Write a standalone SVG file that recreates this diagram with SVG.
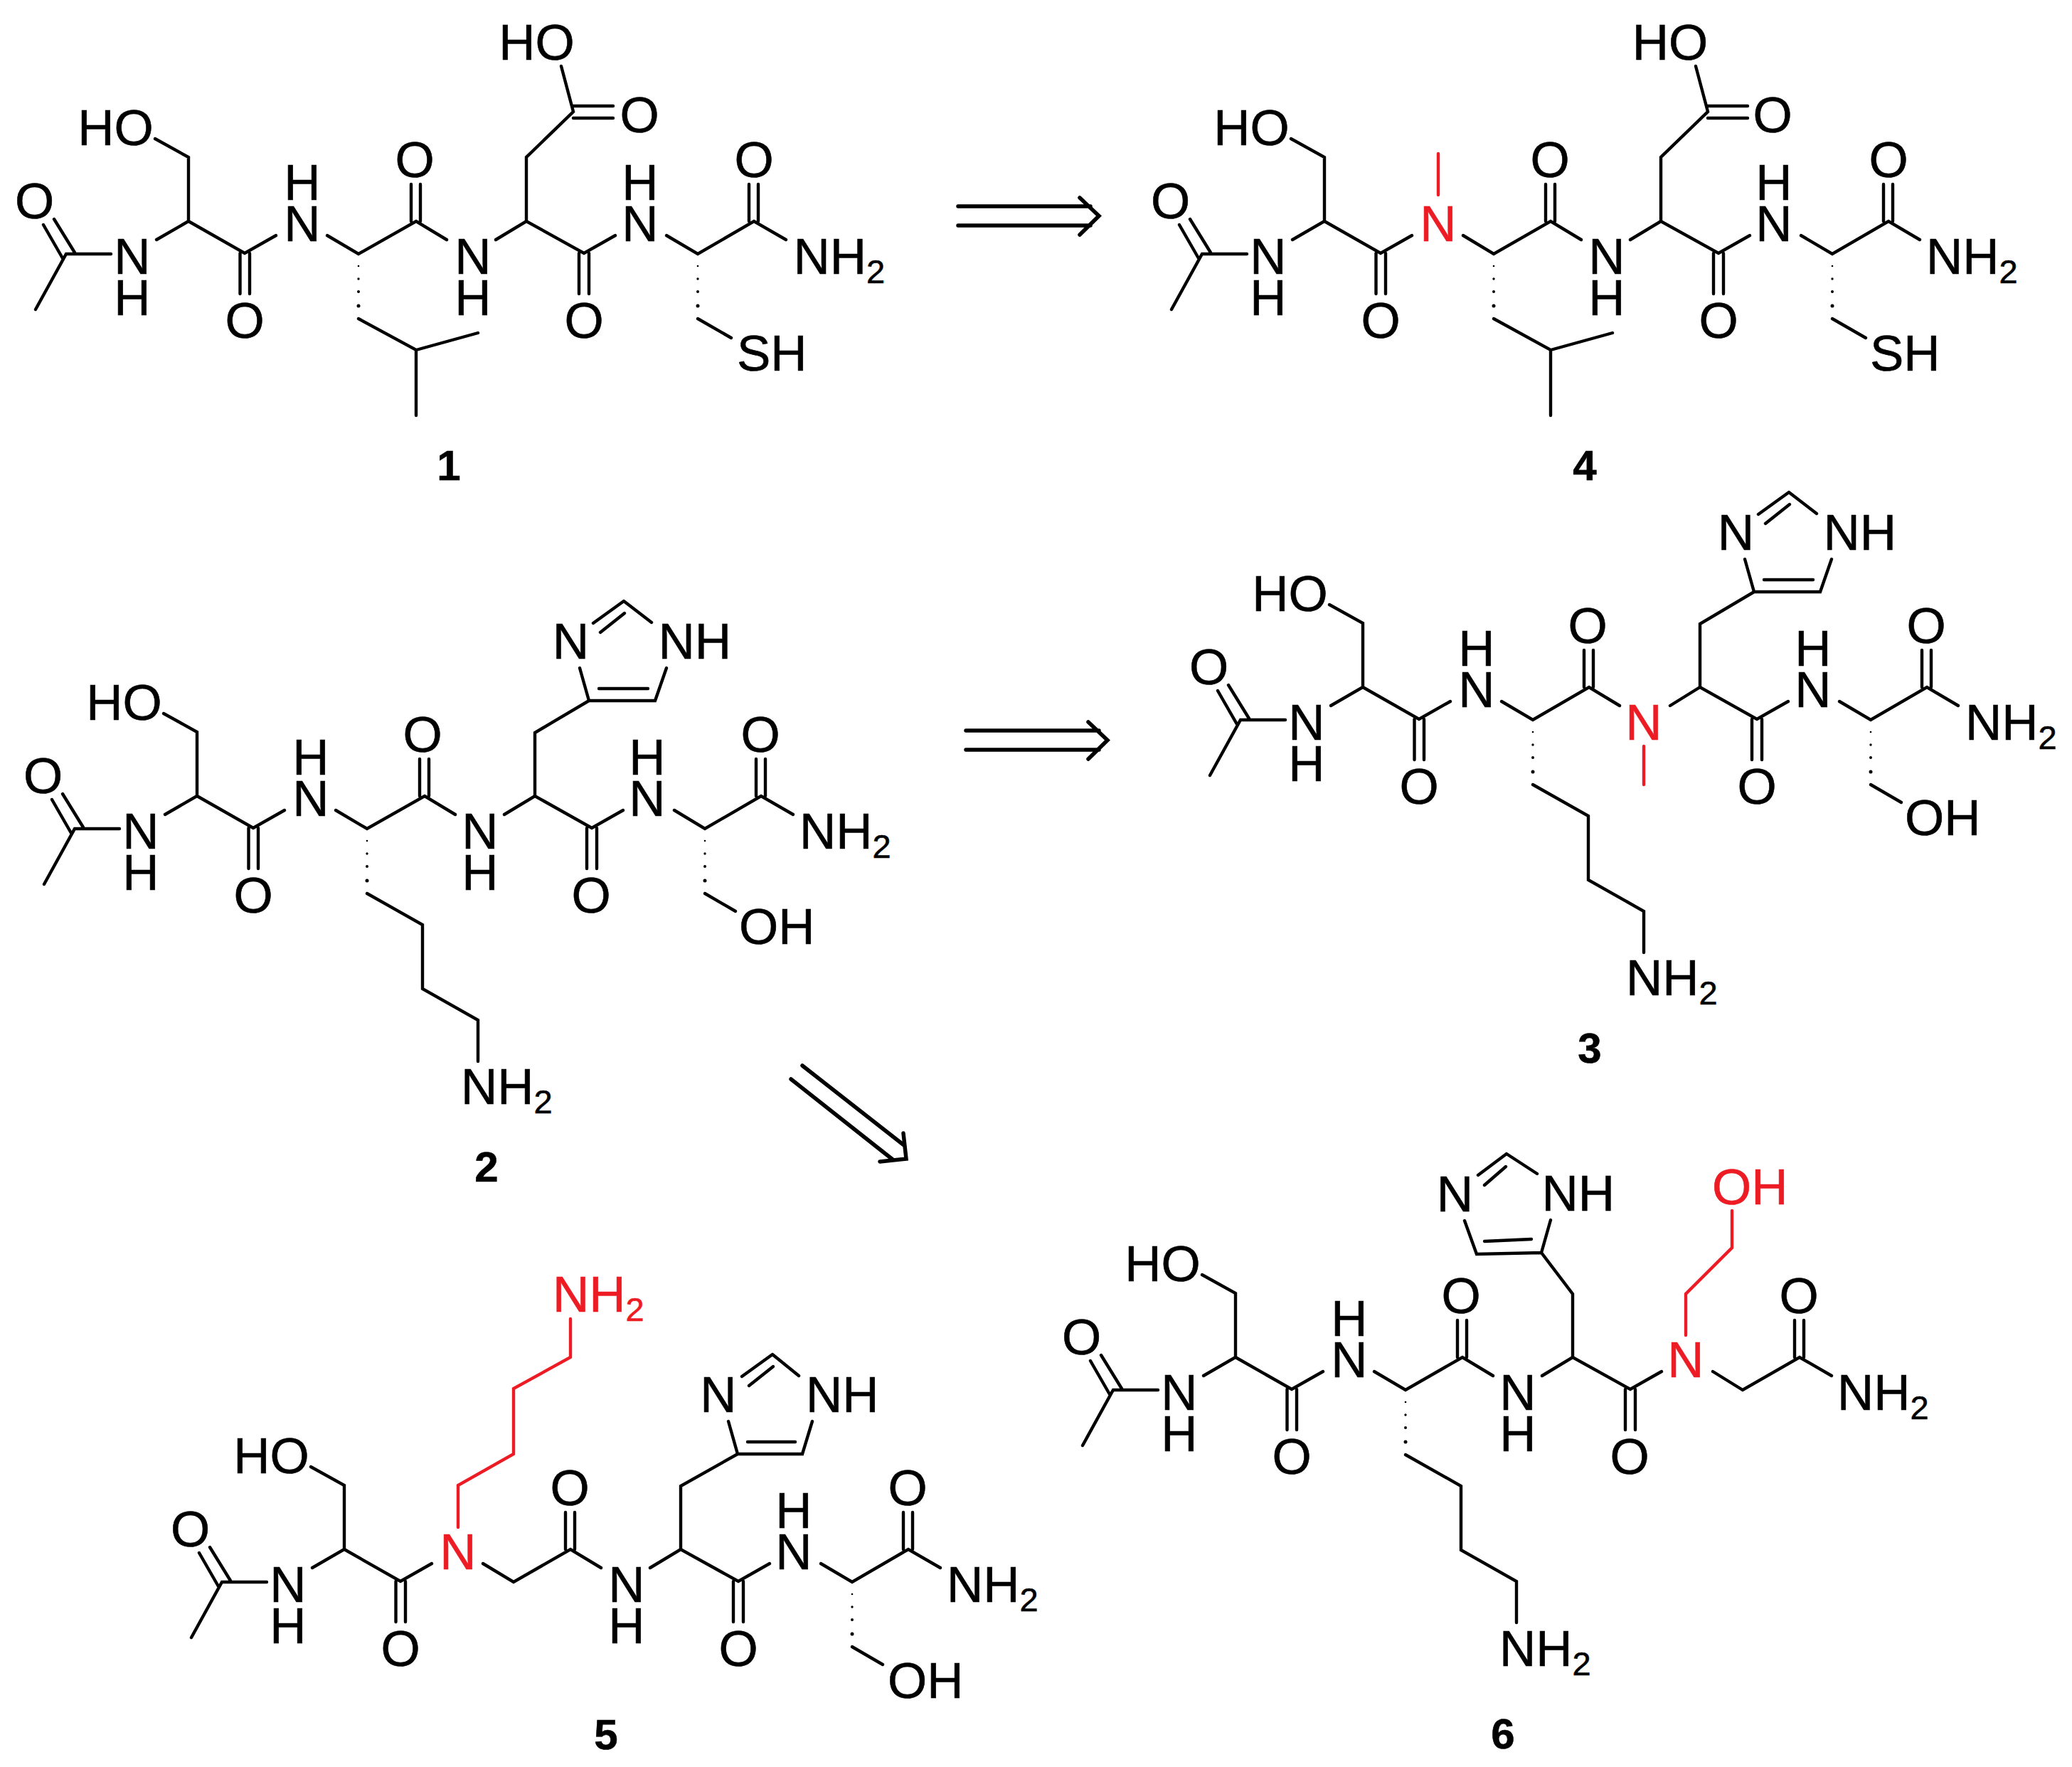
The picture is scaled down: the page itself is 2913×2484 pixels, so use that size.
<svg xmlns="http://www.w3.org/2000/svg" width="2913" height="2484" viewBox="0 0 2913 2484">
<style>
.b{fill:none;stroke:#000;stroke-width:4.400;stroke-linecap:round;stroke-linejoin:miter}
.br{fill:none;stroke:#ed1c24;stroke-width:4.400;stroke-linecap:round;stroke-linejoin:miter}
.a{fill:none;stroke:#000;stroke-width:5.500;stroke-linecap:round;stroke-linejoin:miter}
text{font-family:"Liberation Sans",Arial,sans-serif;font-size:71px;fill:#000;stroke:#000;stroke-width:.6px}
.m{text-anchor:middle}
text.r{fill:#ed1c24;stroke:#ed1c24}
.s{font-size:47px}
text.l{font-size:60px;font-weight:bold;text-anchor:middle}
.d{fill:#000}
</style>
<rect width="2913" height="2484" fill="#fff"/>

<g id="connectors">
<path id="arrow-1" class="a" d="M1347 290H1533M1347 317H1533M1518 278L1545 303.500L1518 330"/>
<path id="arrow-2" class="a" d="M1358 1027H1545M1358 1054H1545M1530 1015L1557 1040.500L1530 1067"/>
<path id="arrow-3" class="a" d="M1128 1498L1271 1610M1112 1517L1255 1630M1270 1593L1274 1629L1237 1633"/>
</g>

<g id="compound-1">
<path class="b" d="M50 435L93 357H156M61 316L88 363M76 308L105 355M220 337L265 311V221L218 195M265 311L344 356L388 331M337.500 356V413M351 356V413M460 331L504 357L585 311L628 337M578 311V259M591 311V259M697 337L740 311L821 356L865 331M814 356V413M828 356V413M937 331L981 357L1060 311L1105 337M1053 311V259M1066 311V259"/>
<path class="b" d="M504 448L585 492L672 468M585 492V584M740 311V221L806 157L789 93M806 149H862M806 166H862M981 448L1028 475"/>
<g class="d"><circle cx="504" cy="374" r="1.300"/><circle cx="504" cy="392" r="1.700"/><circle cx="504" cy="410" r="2"/><circle cx="504" cy="430" r="2.500"/><circle cx="981" cy="374" r="1.300"/><circle cx="981" cy="392" r="1.700"/><circle cx="981" cy="410" r="2"/><circle cx="981" cy="430" r="2.500"/></g>
<text class="m" x="48.500" y="307">O</text><text class="m" x="186" y="385">N</text><text class="m" x="186" y="443">H</text><text class="m" x="162.500" y="204">HO</text><text class="m" x="344" y="475">O</text><text class="m" x="425" y="339">N</text><text class="m" x="425" y="281">H</text><text class="m" x="583" y="249">O</text><text class="m" x="665" y="385">N</text><text class="m" x="665" y="443">H</text><text class="m" x="821" y="475">O</text><text class="m" x="900" y="339">N</text><text class="m" x="900" y="281">H</text><text class="m" x="1060" y="249">O</text>
<text x="1115.500" y="385">NH<tspan class="s" dy="13">2</tspan></text>
<text class="m" x="754.500" y="84">HO</text><text class="m" x="899" y="186">O</text><text x="1036" y="521">SH</text>
<text class="l" x="631" y="675">1</text>
</g>

<g id="compound-4" transform="translate(1597 0)">
<path class="b" d="M50 435L93 357H156M61 316L88 363M76 308L105 355M220 337L265 311V221L218 195M265 311L344 356L388 331M337.500 356V413M351 356V413M460 331L503 357L583 311L626 337M576 311V259M589 311V259M695 337L738 311L819 356L863 331M812 356V413M826 356V413M935 331L979 357L1058 311L1102 337M1051 311V259M1064 311V259"/>
<path class="b" d="M503 448L583 492L670 468M583 492V584M738 311V221L804 157L787 93M804 149H860M804 166H860M979 448L1026 475"/>
<path class="br" d="M425 274V216"/>
<g class="d"><circle cx="503" cy="374" r="1.300"/><circle cx="503" cy="392" r="1.700"/><circle cx="503" cy="410" r="2"/><circle cx="503" cy="430" r="2.500"/><circle cx="979" cy="374" r="1.300"/><circle cx="979" cy="392" r="1.700"/><circle cx="979" cy="410" r="2"/><circle cx="979" cy="430" r="2.500"/></g>
<text class="m" x="48.500" y="307">O</text><text class="m" x="186" y="385">N</text><text class="m" x="186" y="443">H</text><text class="m" x="162.500" y="204">HO</text><text class="m" x="344" y="475">O</text><text class="m r" x="425" y="339">N</text><text class="m" x="582" y="249">O</text><text class="m" x="662" y="385">N</text><text class="m" x="662" y="443">H</text><text class="m" x="819" y="475">O</text><text class="m" x="897" y="339">N</text><text class="m" x="897" y="281">H</text><text class="m" x="1058" y="249">O</text>
<text x="1111" y="385">NH<tspan class="s" dy="13">2</tspan></text>
<text class="m" x="751" y="84">HO</text><text class="m" x="895" y="186">O</text><text x="1032" y="521">SH</text>
<text class="l" x="631" y="675">4</text>
</g>

<g id="compound-2" transform="translate(12 808)">
<path class="b" d="M50 435L93 357H156M61 316L88 363M76 308L105 355M220 337L265 311V221L218 195M265 311L344 356L388 331M337.500 356V413M351 356V413M460 331L504 357L585 311L628 337M578 311V259M591 311V259M697 337L740 311L820 356L864 331M813 356V413M827 356V413M936 331L979 357L1058 311L1103 337M1051 311V259M1064 311V259"/>
<path class="b" d="M504 448L582 492V582L660 626V684M740 311V222L816 177H909L925 131M830 160H899M865 37L904 67M865 37L822 68M866 54L832 81M803 131L816 177M979 448L1022 473"/>
<g class="d"><circle cx="504" cy="374" r="1.300"/><circle cx="504" cy="392" r="1.700"/><circle cx="504" cy="410" r="2"/><circle cx="504" cy="430" r="2.500"/><circle cx="979" cy="374" r="1.300"/><circle cx="979" cy="392" r="1.700"/><circle cx="979" cy="410" r="2"/><circle cx="979" cy="430" r="2.500"/></g>
<text class="m" x="48.500" y="307">O</text><text class="m" x="186" y="385">N</text><text class="m" x="186" y="443">H</text><text class="m" x="162.500" y="204">HO</text><text class="m" x="344" y="475">O</text><text class="m" x="425" y="339">N</text><text class="m" x="425" y="281">H</text><text class="m" x="582" y="249">O</text><text class="m" x="663" y="385">N</text><text class="m" x="663" y="443">H</text><text class="m" x="819" y="475">O</text><text class="m" x="898" y="339">N</text><text class="m" x="898" y="281">H</text><text class="m" x="1057" y="249">O</text>
<text x="1112" y="385">NH<tspan class="s" dy="13">2</tspan></text>
<text class="m" x="790.500" y="118">N</text><text x="913.500" y="118">NH</text><text x="1027" y="519">OH</text><text x="636" y="744">NH<tspan class="s" dy="13">2</tspan></text>
<text class="l" x="672" y="853">2</text>
</g>

<g id="compound-3" transform="translate(1651 655)">
<path class="b" d="M50 435L93 357H156M61 316L88 363M76 308L105 355M220 337L265 311V221L218 195M265 311L344 356L388 331M337.500 356V413M351 356V413M460 331L504 357L583 311L626 337M576 311V259M589 311V259M697 337L739 311L819 356L863 331M812 356V413M826 356V413M935 331L979 357L1058 311L1102 337M1051 311V259M1064 311V259"/>
<path class="b" d="M504 448L582 492V582L660 626V684M739 311V222L815 177H908L924 131M829 160H898M864 37L903 67M864 37L821 68M865 54L831 81M802 131L815 177M979 448L1022 473"/>
<path class="br" d="M660 394V448"/>
<g class="d"><circle cx="504" cy="374" r="1.300"/><circle cx="504" cy="392" r="1.700"/><circle cx="504" cy="410" r="2"/><circle cx="504" cy="430" r="2.500"/><circle cx="979" cy="374" r="1.300"/><circle cx="979" cy="392" r="1.700"/><circle cx="979" cy="410" r="2"/><circle cx="979" cy="430" r="2.500"/></g>
<text class="m" x="48.500" y="307">O</text><text class="m" x="186" y="385">N</text><text class="m" x="186" y="443">H</text><text class="m" x="162.500" y="204">HO</text><text class="m" x="344" y="475">O</text><text class="m" x="425" y="339">N</text><text class="m" x="425" y="281">H</text><text class="m" x="581" y="249">O</text><text class="m r" x="660" y="385">N</text><text class="m" x="819" y="475">O</text><text class="m" x="898" y="339">N</text><text class="m" x="898" y="281">H</text><text class="m" x="1057" y="249">O</text>
<text x="1112" y="385">NH<tspan class="s" dy="13">2</tspan></text>
<text class="m" x="789.500" y="118">N</text><text x="912.500" y="118">NH</text><text x="1027" y="519">OH</text><text x="635" y="744">NH<tspan class="s" dy="13">2</tspan></text>
<text class="l" x="584" y="839">3</text>
</g>

<g id="compound-5" transform="translate(219 1867)">
<path class="b" d="M50 435L93 357H156M61 316L88 363M76 308L105 355M220 337L265 311V221L218 195M265 311L344 356L388 331M337.500 356V413M351 356V413M460 331L503 357L583 311L626 337M576 311V259M589 311V259M695 337L738 311L819 356L863 331M812 356V413M826 356V413M935 331L979 357L1058 311L1103 337M1051 311V259M1064 311V259"/>
<path class="b" d="M738 311V222L818 177H909L923 131M832 160H899M867 37L904 67M867 37L824 68M868 54L834 81M805 131L818 177M979 448L1022 473"/>
<path class="br" d="M425 280V221L503 177V85L583 41V-13"/>
<g class="d"><circle cx="979" cy="374" r="1.300"/><circle cx="979" cy="392" r="1.700"/><circle cx="979" cy="410" r="2"/><circle cx="979" cy="430" r="2.500"/></g>
<text class="m" x="48.500" y="307">O</text><text class="m" x="186" y="385">N</text><text class="m" x="186" y="443">H</text><text class="m" x="162.500" y="204">HO</text><text class="m" x="344" y="475">O</text><text class="m r" x="425" y="339">N</text><text class="m" x="582" y="249">O</text><text class="m" x="662" y="385">N</text><text class="m" x="662" y="443">H</text><text class="m" x="819" y="475">O</text><text class="m" x="897" y="339">N</text><text class="m" x="897" y="281">H</text><text class="m" x="1057" y="249">O</text>
<text x="1112" y="385">NH<tspan class="s" dy="13">2</tspan></text>
<text class="m" x="791" y="118">N</text><text x="914" y="118">NH</text><text x="1029" y="520">OH</text>
<text class="r" x="558" y="-23">NH<tspan class="s" dy="13">2</tspan></text>
<text class="l" x="633" y="592">5</text>
</g>

<g id="compound-6" transform="translate(1472 1597)">
<path class="b" d="M50 435L93 357H156M61 316L88 363M76 308L105 355M220 337L265 311V221L218 195M265 311L344 356L388 331M337.500 356V413M351 356V413M460 331L504 357L584 311L627 337M577 311V259M590 311V259M696 337L739 311L820 356L864 331M813 356V413M827 356V413M936 331L978 357L1058 311L1103 337M1051 311V259M1064 311V259"/>
<path class="b" d="M504 448L582 492V582L660 626V684M739 311V222L695 164L604 166L587 119M681 145L615 148M695 164L708 118M646 25L689 53M646 25L606 55M645 43L615 69"/>
<path class="br" d="M898 280V222L963 157V105"/>
<g class="d"><circle cx="504" cy="374" r="1.300"/><circle cx="504" cy="392" r="1.700"/><circle cx="504" cy="410" r="2"/><circle cx="504" cy="430" r="2.500"/></g>
<text class="m" x="48.500" y="307">O</text><text class="m" x="186" y="385">N</text><text class="m" x="186" y="443">H</text><text class="m" x="162.500" y="204">HO</text><text class="m" x="344" y="475">O</text><text class="m" x="425" y="339">N</text><text class="m" x="425" y="281">H</text><text class="m" x="582" y="249">O</text><text class="m" x="662" y="385">N</text><text class="m" x="662" y="443">H</text><text class="m" x="819" y="475">O</text><text class="m r" x="898" y="339">N</text><text class="m" x="1057" y="249">O</text>
<text x="1111" y="385">NH<tspan class="s" dy="13">2</tspan></text>
<text class="m" x="573.500" y="106">N</text><text x="695.500" y="105">NH</text><text x="636" y="745">NH<tspan class="s" dy="13">2</tspan></text>
<text class="r" x="935" y="96">OH</text>
<text class="l" x="641" y="861">6</text>
</g>
</svg>
